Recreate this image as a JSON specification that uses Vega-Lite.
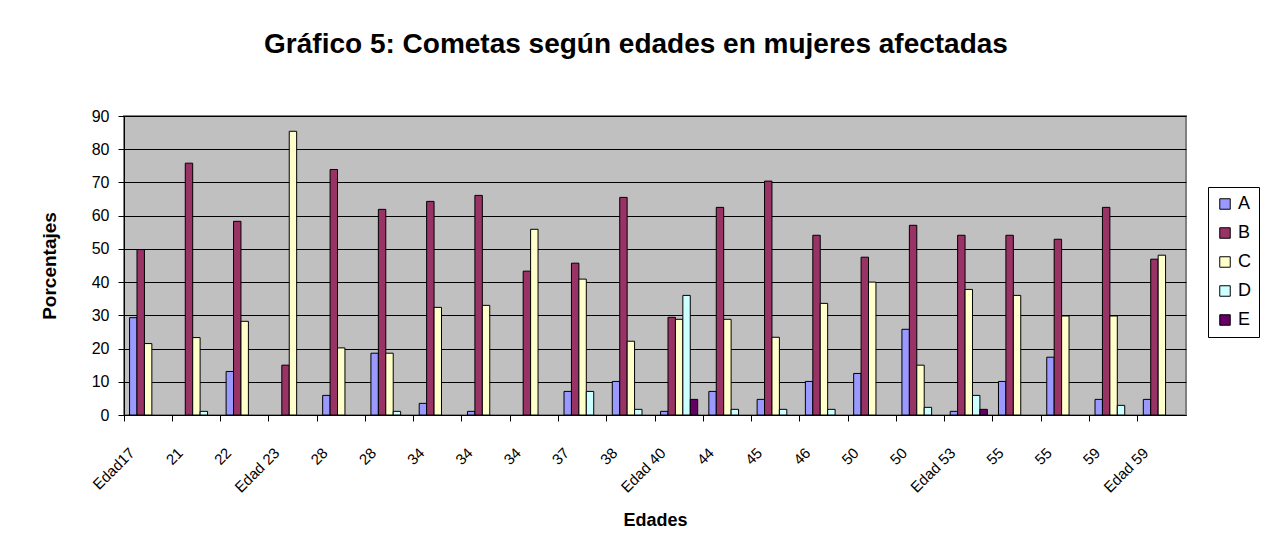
{
  "$schema": "https://vega.github.io/schema/vega-lite/v6.json",
  "width": 1062,
  "height": 299,
  "autosize": "none",
  "padding": {"left": 124, "top": 116, "right": 82, "bottom": 143},
  "background": "white",
  "title": {
    "text": "Gráfico 5: Cometas según edades en mujeres afectadas",
    "font": "Liberation Sans",
    "fontSize": 28,
    "fontWeight": "bold",
    "color": "black",
    "anchor": "middle",
    "offset": 49,
    "dx": -19
  },
  "data": {
    "values": [
      {"pos": 0, "serie": "A", "valor": 29.3}, {"pos": 0, "serie": "B", "valor": 49.8}, {"pos": 0, "serie": "C", "valor": 21.5},
      {"pos": 1, "serie": "B", "valor": 75.8}, {"pos": 1, "serie": "C", "valor": 23.3}, {"pos": 1, "serie": "D", "valor": 1.1},
      {"pos": 2, "serie": "A", "valor": 13.1}, {"pos": 2, "serie": "B", "valor": 58.3}, {"pos": 2, "serie": "C", "valor": 28.2},
      {"pos": 3, "serie": "B", "valor": 15.0}, {"pos": 3, "serie": "C", "valor": 85.4},
      {"pos": 4, "serie": "A", "valor": 5.9}, {"pos": 4, "serie": "B", "valor": 73.9}, {"pos": 4, "serie": "C", "valor": 20.2},
      {"pos": 5, "serie": "A", "valor": 18.6}, {"pos": 5, "serie": "B", "valor": 61.9}, {"pos": 5, "serie": "C", "valor": 18.6}, {"pos": 5, "serie": "D", "valor": 1.1},
      {"pos": 6, "serie": "A", "valor": 3.5}, {"pos": 6, "serie": "B", "valor": 64.3}, {"pos": 6, "serie": "C", "valor": 32.4},
      {"pos": 7, "serie": "A", "valor": 1.1}, {"pos": 7, "serie": "B", "valor": 66.1}, {"pos": 7, "serie": "C", "valor": 33.0},
      {"pos": 8, "serie": "B", "valor": 43.3}, {"pos": 8, "serie": "C", "valor": 55.9},
      {"pos": 9, "serie": "A", "valor": 7.1}, {"pos": 9, "serie": "B", "valor": 45.7}, {"pos": 9, "serie": "C", "valor": 40.9}, {"pos": 9, "serie": "D", "valor": 7.1},
      {"pos": 10, "serie": "A", "valor": 10.1}, {"pos": 10, "serie": "B", "valor": 65.5}, {"pos": 10, "serie": "C", "valor": 22.2}, {"pos": 10, "serie": "D", "valor": 1.7},
      {"pos": 11, "serie": "A", "valor": 1.1}, {"pos": 11, "serie": "B", "valor": 29.4}, {"pos": 11, "serie": "C", "valor": 28.8}, {"pos": 11, "serie": "D", "valor": 36.0}, {"pos": 11, "serie": "E", "valor": 4.7},
      {"pos": 12, "serie": "A", "valor": 7.1}, {"pos": 12, "serie": "B", "valor": 62.5}, {"pos": 12, "serie": "C", "valor": 28.8}, {"pos": 12, "serie": "D", "valor": 1.7},
      {"pos": 13, "serie": "A", "valor": 4.7}, {"pos": 13, "serie": "B", "valor": 70.4}, {"pos": 13, "serie": "C", "valor": 23.4}, {"pos": 13, "serie": "D", "valor": 1.7},
      {"pos": 14, "serie": "A", "valor": 10.1}, {"pos": 14, "serie": "B", "valor": 54.1}, {"pos": 14, "serie": "C", "valor": 33.6}, {"pos": 14, "serie": "D", "valor": 1.7},
      {"pos": 15, "serie": "A", "valor": 12.5}, {"pos": 15, "serie": "B", "valor": 47.5}, {"pos": 15, "serie": "C", "valor": 40.0},
      {"pos": 16, "serie": "A", "valor": 25.8}, {"pos": 16, "serie": "B", "valor": 57.1}, {"pos": 16, "serie": "C", "valor": 15.0}, {"pos": 16, "serie": "D", "valor": 2.3},
      {"pos": 17, "serie": "A", "valor": 1.1}, {"pos": 17, "serie": "B", "valor": 54.1}, {"pos": 17, "serie": "C", "valor": 37.8}, {"pos": 17, "serie": "D", "valor": 5.9}, {"pos": 17, "serie": "E", "valor": 1.7},
      {"pos": 18, "serie": "A", "valor": 10.1}, {"pos": 18, "serie": "B", "valor": 54.1}, {"pos": 18, "serie": "C", "valor": 36.0},
      {"pos": 19, "serie": "A", "valor": 17.4}, {"pos": 19, "serie": "B", "valor": 52.9}, {"pos": 19, "serie": "C", "valor": 29.8},
      {"pos": 20, "serie": "A", "valor": 4.7}, {"pos": 20, "serie": "B", "valor": 62.5}, {"pos": 20, "serie": "C", "valor": 29.8}, {"pos": 20, "serie": "D", "valor": 2.9},
      {"pos": 21, "serie": "A", "valor": 4.7}, {"pos": 21, "serie": "B", "valor": 46.9}, {"pos": 21, "serie": "C", "valor": 48.1}
    ]
  },
  "mark": {"type": "bar", "stroke": "black", "strokeWidth": 1},
  "encoding": {
    "x": {
      "field": "pos",
      "type": "ordinal",
      "title": "Edades",
      "scale": {"paddingInner": 0, "paddingOuter": 0},
      "axis": {
        "bandPosition": 0,
        "labelExpr": "['Edad17','21','22','Edad 23','28','28','34','34','34','37','38','Edad 40','44','45','46','50','50','Edad 53','55','55','59','Edad 59'][datum.value]",
        "labelAngle": -45,
        "labelAlign": "right",
        "labelBaseline": "middle",
        "labelOffset": -16,
        "labelPadding": 29,
        "labelFont": "Liberation Sans",
        "labelFontSize": 15,
        "labelColor": "black",
        "tickColor": "black",
        "tickSize": 6,
        "domainColor": "black",
        "grid": false,
        "titleFont": "Liberation Sans",
        "titleFontSize": 18,
        "titleFontWeight": "bold",
        "titleColor": "black",
        "titlePadding": 16
      }
    },
    "xOffset": {
      "field": "serie",
      "type": "nominal",
      "scale": {"domain": ["A", "B", "C", "D", "E"], "paddingInner": 0, "paddingOuter": 0.75}
    },
    "y": {
      "field": "valor",
      "type": "quantitative",
      "title": "Porcentajes",
      "scale": {"domain": [0, 90]},
      "axis": {
        "values": [0, 10, 20, 30, 40, 50, 60, 70, 80, 90],
        "labelFont": "Liberation Sans",
        "labelFontSize": 16,
        "labelColor": "black",
        "labelPadding": 9,
        "tickColor": "black",
        "tickSize": 6,
        "domainColor": "black",
        "grid": true,
        "gridColor": "black",
        "gridWidth": 1,
        "gridOpacity": 1,
        "titleFont": "Liberation Sans",
        "titleFontSize": 19,
        "titleFontWeight": "bold",
        "titleColor": "black",
        "titlePadding": 32
      }
    },
    "color": {
      "field": "serie",
      "type": "nominal",
      "scale": {"domain": ["A", "B", "C", "D", "E"], "range": ["#9999FF", "#993366", "#FFFFCC", "#CCFFFF", "#660066"]},
      "legend": {
        "title": null,
        "orient": "none",
        "legendX": 1084,
        "legendY": 71,
        "fillColor": "white",
        "strokeColor": "black",
        "padding": 8,
        "symbolType": "square",
        "symbolSize": 110,
        "symbolStrokeColor": "black",
        "symbolStrokeWidth": 1,
        "labelFont": "Liberation Sans",
        "labelFontSize": 18,
        "labelColor": "black",
        "labelOffset": 4,
        "rowPadding": 11
      }
    }
  },
  "config": {
    "view": {"fill": "#C0C0C0", "stroke": "#808080", "strokeWidth": 2}
  }
}
